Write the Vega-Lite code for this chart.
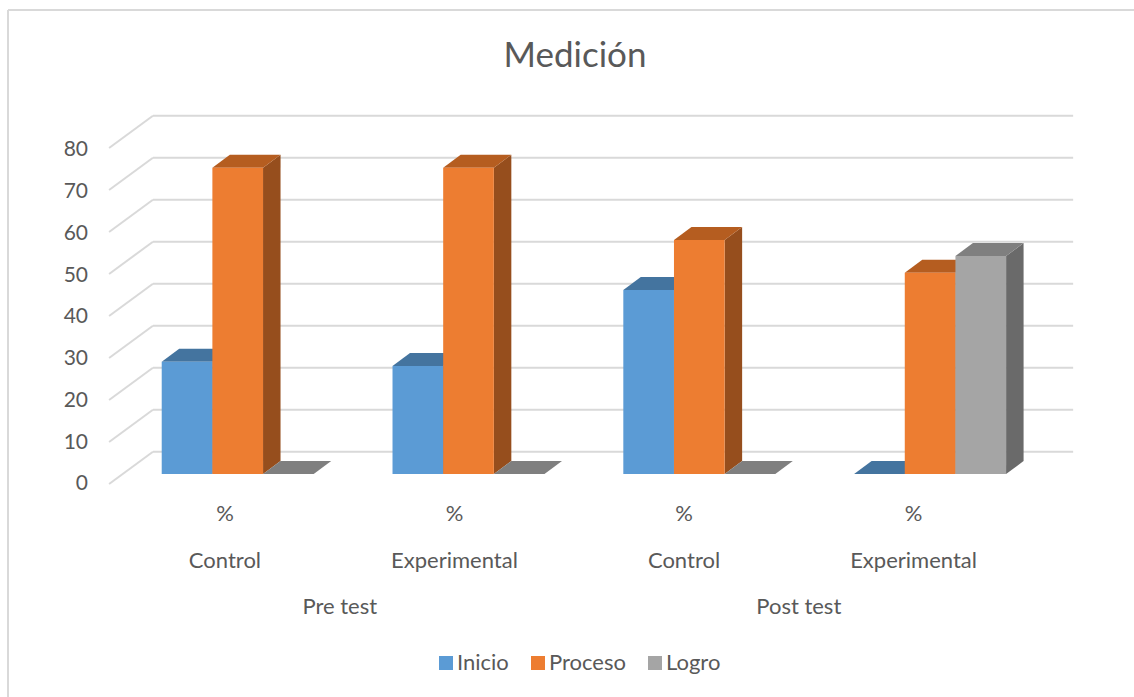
{
  "$schema": "https://vega.github.io/schema/vega-lite/v6.json",
  "width": 1134,
  "height": 697,
  "padding": 0,
  "autosize": {"type": "none"},
  "background": "white",
  "view": {"stroke": null},
  "title": {
    "text": "Medición",
    "font": "Lato",
    "fontSize": 35,
    "fontWeight": "normal",
    "color": "#595959",
    "anchor": "middle",
    "frame": "group",
    "orient": "top",
    "offset": -74,
    "dx": 8
  },
  "datasets": {
    "bars": [
      {"stage": "Pre test", "group": "Control", "cell": 0, "series": "Inicio", "value": 26.7},
      {"stage": "Pre test", "group": "Control", "cell": 0, "series": "Proceso", "value": 72.9},
      {"stage": "Pre test", "group": "Control", "cell": 0, "series": "Logro", "value": 0},
      {"stage": "Pre test", "group": "Experimental", "cell": 1, "series": "Inicio", "value": 25.7},
      {"stage": "Pre test", "group": "Experimental", "cell": 1, "series": "Proceso", "value": 72.9},
      {"stage": "Pre test", "group": "Experimental", "cell": 1, "series": "Logro", "value": 0},
      {"stage": "Post test", "group": "Control", "cell": 2, "series": "Inicio", "value": 43.8},
      {"stage": "Post test", "group": "Control", "cell": 2, "series": "Proceso", "value": 55.7},
      {"stage": "Post test", "group": "Control", "cell": 2, "series": "Logro", "value": 0},
      {"stage": "Post test", "group": "Experimental", "cell": 3, "series": "Inicio", "value": 0},
      {"stage": "Post test", "group": "Experimental", "cell": 3, "series": "Proceso", "value": 47.9},
      {"stage": "Post test", "group": "Experimental", "cell": 3, "series": "Logro", "value": 51.9}
    ],
    "ticks": [
      {"tick": 0}, {"tick": 10}, {"tick": 20}, {"tick": 30}, {"tick": 40},
      {"tick": 50}, {"tick": 60}, {"tick": 70}, {"tick": 80}
    ],
    "groups": [
      {"label": "Control", "cell": 0},
      {"label": "Experimental", "cell": 1},
      {"label": "Control", "cell": 2},
      {"label": "Experimental", "cell": 3}
    ],
    "stages": [
      {"label": "Pre test", "cell": 0.5},
      {"label": "Post test", "cell": 2.5}
    ],
    "frame": [{"edge": "outer"}]
  },
  "resolve": {"scale": {"color": "independent"}},
  "layer": [
    {
      "description": "Outer frame, left edge",
      "data": {"name": "frame"},
      "mark": {"type": "rule", "color": "#D9D9D9", "strokeWidth": 2},
      "encoding": {
        "x": {"datum": -0.5, "type": "quantitative", "axis": null, "scale": {"domain": [-0.5347, 4.3787], "nice": false, "zero": false}},
        "y": {"datum": 110.5, "type": "quantitative", "axis": null, "scale": {"domain": [-53.095, 112.857], "nice": false, "zero": false}},
        "y2": {"datum": -53.095}
      }
    },
    {
      "description": "Outer frame, top edge",
      "data": {"name": "frame"},
      "mark": {"type": "rule", "color": "#D9D9D9", "strokeWidth": 2},
      "encoding": {
        "x": {"datum": -0.5, "type": "quantitative"},
        "x2": {"datum": 4.3787},
        "y": {"datum": 110.5, "type": "quantitative"}
      }
    },
    {
      "description": "Gridlines on the back wall",
      "data": {"name": "ticks"},
      "transform": [{"calculate": "datum.tick + 5.31", "as": "back"}],
      "mark": {"type": "rule", "color": "#D9D9D9", "strokeWidth": 2},
      "encoding": {
        "x": {"datum": 0.128, "type": "quantitative"},
        "x2": {"datum": 4.115},
        "y": {"field": "back", "type": "quantitative"}
      }
    },
    {
      "description": "Gridlines on the side wall",
      "data": {"name": "ticks"},
      "transform": [
        {"calculate": "datum.tick + 5.31", "as": "back"},
        {"calculate": "datum.tick - 2.38", "as": "front"}
      ],
      "mark": {"type": "rule", "color": "#D9D9D9", "strokeWidth": 2},
      "encoding": {
        "x": {"datum": -0.062, "type": "quantitative"},
        "x2": {"datum": 0.128},
        "y": {"field": "front", "type": "quantitative"},
        "y2": {"field": "back"}
      }
    },
    {
      "description": "Right-hand faces of the columns",
      "data": {"name": "bars"},
      "transform": [
        {"calculate": "indexof(['Inicio','Proceso','Logro'], datum.series)", "as": "slot"},
        {"calculate": "datum.cell + 0.166 + (datum.slot + 1) * 0.2195", "as": "right"},
        {"calculate": "[0, 1]", "as": "t"},
        {"flatten": ["t"]},
        {"calculate": "datum.right + datum.t * 0.0758", "as": "px"},
        {"calculate": "datum.t * 3.1", "as": "low"},
        {"calculate": "datum.value + datum.t * 3.1", "as": "high"},
        {"calculate": "datum.cell + '-' + datum.series", "as": "bar"}
      ],
      "mark": {"type": "area", "interpolate": "linear", "opacity": 1},
      "encoding": {
        "x": {"field": "px", "type": "quantitative"},
        "y": {"field": "high", "type": "quantitative", "stack": null},
        "y2": {"field": "low"},
        "detail": {"field": "bar"},
        "color": {
          "field": "series",
          "type": "nominal",
          "legend": null,
          "scale": {"domain": ["Inicio", "Proceso", "Logro"], "range": ["#3A6A94", "#964E1D", "#6A6A6A"]}
        }
      }
    },
    {
      "description": "Top faces of the columns",
      "data": {"name": "bars"},
      "transform": [
        {"calculate": "indexof(['Inicio','Proceso','Logro'], datum.series)", "as": "slot"},
        {"calculate": "datum.cell + 0.166 + datum.slot * 0.2195", "as": "left"},
        {"calculate": "[0, 1, 2, 3]", "as": "t"},
        {"flatten": ["t"]},
        {"calculate": "datum.left + (datum.t === 1 ? 0.0758 : datum.t === 2 ? 0.2195 : datum.t === 3 ? 0.2953 : 0)", "as": "px"},
        {"calculate": "datum.value + (datum.t === 3 ? 3.1 : 0)", "as": "low"},
        {"calculate": "datum.value + (datum.t === 0 ? 0 : 3.1)", "as": "high"},
        {"calculate": "datum.cell + '-' + datum.series", "as": "bar"}
      ],
      "mark": {"type": "area", "interpolate": "linear", "opacity": 1},
      "encoding": {
        "x": {"field": "px", "type": "quantitative"},
        "y": {"field": "high", "type": "quantitative", "stack": null},
        "y2": {"field": "low"},
        "detail": {"field": "bar"},
        "color": {
          "field": "series",
          "type": "nominal",
          "legend": null,
          "scale": {"domain": ["Inicio", "Proceso", "Logro"], "range": ["#44749F", "#B55D20", "#7F7F7F"]}
        }
      }
    },
    {
      "description": "Front faces of the columns",
      "data": {"name": "bars"},
      "transform": [
        {"calculate": "indexof(['Inicio','Proceso','Logro'], datum.series)", "as": "slot"},
        {"calculate": "datum.cell + 0.166 + datum.slot * 0.2195", "as": "left"},
        {"calculate": "datum.left + 0.2195", "as": "right"}
      ],
      "mark": {"type": "rect"},
      "encoding": {
        "x": {"field": "left", "type": "quantitative"},
        "x2": {"field": "right"},
        "y": {"field": "value", "type": "quantitative"},
        "y2": {"datum": 0},
        "color": {
          "field": "series",
          "type": "nominal",
          "scale": {"domain": ["Inicio", "Proceso", "Logro"], "range": ["#5B9BD5", "#ED7D31", "#A5A5A5"]},
          "legend": {
            "title": null,
            "orient": "none",
            "legendX": 435,
            "legendY": 652,
            "direction": "horizontal",
            "columns": 3,
            "symbolType": "square",
            "symbolSize": 196,
            "symbolStrokeWidth": 0,
            "labelFont": "Lato",
            "labelFontSize": 22,
            "labelColor": "#595959",
            "labelOffset": 0,
            "columnPadding": 18
          }
        }
      }
    },
    {
      "description": "Value labels beside the side wall",
      "data": {"name": "ticks"},
      "transform": [{"calculate": "datum.tick * 0.994 - 2.45", "as": "at"}],
      "mark": {"type": "text", "font": "Lato", "fontSize": 21, "color": "#595959", "align": "right", "baseline": "middle"},
      "encoding": {
        "x": {"datum": -0.1534, "type": "quantitative"},
        "y": {"field": "at", "type": "quantitative"},
        "text": {"field": "tick", "type": "quantitative"}
      }
    },
    {
      "description": "Unit label under each cluster",
      "data": {"name": "groups"},
      "transform": [{"calculate": "datum.cell * 0.9945 + 0.44", "as": "at"}],
      "mark": {"type": "text", "font": "Lato", "fontSize": 22, "color": "#595959", "baseline": "middle"},
      "encoding": {
        "x": {"field": "at", "type": "quantitative"},
        "y": {"datum": -9.55, "type": "quantitative"},
        "text": {"value": "%"}
      }
    },
    {
      "description": "Group names",
      "data": {"name": "groups"},
      "transform": [{"calculate": "datum.cell * 0.9945 + 0.44", "as": "at"}],
      "mark": {"type": "text", "font": "Lato", "fontSize": 22, "color": "#595959", "baseline": "middle"},
      "encoding": {
        "x": {"field": "at", "type": "quantitative"},
        "y": {"datum": -20.65, "type": "quantitative"},
        "text": {"field": "label", "type": "nominal"}
      }
    },
    {
      "description": "Stage names",
      "data": {"name": "stages"},
      "transform": [{"calculate": "datum.cell * 0.9945 + 0.44", "as": "at"}],
      "mark": {"type": "text", "font": "Lato", "fontSize": 22, "color": "#595959", "baseline": "middle"},
      "encoding": {
        "x": {"field": "at", "type": "quantitative"},
        "y": {"datum": -31.65, "type": "quantitative"},
        "text": {"field": "label", "type": "nominal"}
      }
    }
  ]
}
